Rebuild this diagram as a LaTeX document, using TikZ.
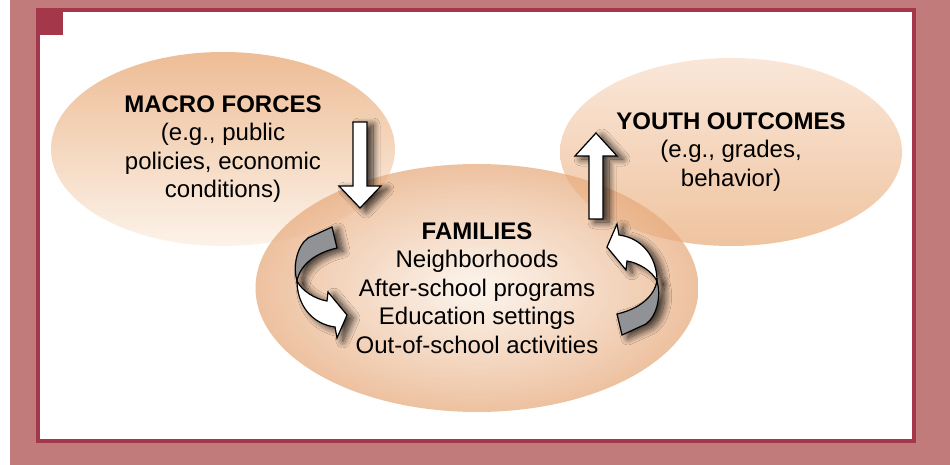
\documentclass[tikz,border=0pt]{standalone}
\usepackage{fontspec}
\setmainfont{Liberation Sans}
\usetikzlibrary{shapes.geometric,shadows.blur}
\definecolor{pinkbg}{HTML}{C17B7B}
\definecolor{darkred}{HTML}{A5374B}
\definecolor{arrowgray}{HTML}{909296}
\definecolor{macrotop}{RGB}{231,164,109}
\definecolor{macrobot}{RGB}{252,238,225}
\definecolor{youthtop}{RGB}{249,222,202}
\definecolor{youthbot}{RGB}{234,174,124}
\definecolor{famin}{RGB}{252,242,232}
\definecolor{famout}{RGB}{231,170,124}
\tikzset{
  bubble/.style={ellipse, inner sep=0pt, fill opacity=0.72, text opacity=1,
    align=center, font=\fontsize{24}{28.5}\selectfont},
  blockarrow/.style={draw=black, line width=1.2pt, line join=miter},
  shad/.style={blur shadow={shadow xshift=6pt, shadow yshift=-3pt,
    shadow blur radius=7pt, shadow blur steps=14, shadow opacity=80}}
}
\begin{document}
\begin{tikzpicture}[x=1pt,y=-1pt]
\useasboundingbox (0,0) rectangle (950,465);
% frame
\fill[pinkbg] (10,0) rectangle (950,465);
\fill[darkred] (36,8) rectangle (916,443);
\fill[white] (40,12) rectangle (912,439);
\fill[darkred] (36,8) rectangle (63,35);
% bubbles
\node[bubble, top color=macrotop, bottom color=macrobot,
  minimum width=344pt, minimum height=194pt] (macro) at (223,149)
  {\textbf{MACRO FORCES}\\(e.g., public\\policies, economic\\conditions)};
\node[bubble, top color=youthtop, bottom color=youthbot,
  minimum width=342pt, minimum height=188pt] (youth) at (731,152)
  {\textbf{YOUTH OUTCOMES}\\(e.g., grades,\\behavior)};
\node[bubble, inner color=famin, outer color=famout,
  minimum width=443pt, minimum height=248pt] (families) at (477,288)
  {\textbf{FAMILIES}\\Neighborhoods\\After-school programs\\Education settings\\Out-of-school activities};
% straight arrows
\draw[blockarrow, fill=white, shad] (353,122) -- (367,122) -- (367,186) -- (381,186)
  -- (360,208) -- (339,186) -- (353,186) -- cycle;
\draw[blockarrow, fill=white, shad] (589,219) -- (603,219) -- (603,156) -- (617,156)
  -- (596,133) -- (575,156) -- (589,156) -- cycle;
% left curved arrow
\path[shad] (308,238) -- (332,227) -- (337,248) .. controls (315,253) and (300,265) .. (297,281)
  .. controls (293,268) and (296,247) .. cycle;
\path[shad] (297,281) .. controls (302,291) and (315,299) .. (327,301) -- (328,292) -- (347,315)
  -- (337,338) -- (335,327) .. controls (312,324) and (297,305) .. cycle;
\draw[blockarrow, fill=arrowgray] (308,238) -- (332,227) -- (337,248) .. controls (315,253) and (300,265) .. (297,281)
  .. controls (293,268) and (296,247) .. cycle;
\draw[blockarrow, fill=white] (297,281) .. controls (302,291) and (315,299) .. (327,301) -- (328,292) -- (347,315)
  -- (337,338) -- (335,327) .. controls (312,324) and (297,305) .. cycle;
% right curved arrow
\path[shad] (646,324) -- (622,335) -- (617,314) .. controls (639,309) and (654,297) .. (657,281)
  .. controls (661,294) and (658,315) .. cycle;
\path[shad] (657,281) .. controls (652,271) and (639,263) .. (627,261) -- (626,270) -- (607,247)
  -- (617,224) -- (619,235) .. controls (642,238) and (657,257) .. cycle;
\draw[blockarrow, fill=arrowgray] (646,324) -- (622,335) -- (617,314) .. controls (639,309) and (654,297) .. (657,281)
  .. controls (661,294) and (658,315) .. cycle;
\draw[blockarrow, fill=white] (657,281) .. controls (652,271) and (639,263) .. (627,261) -- (626,270) -- (607,247)
  -- (617,224) -- (619,235) .. controls (642,238) and (657,257) .. cycle;
\end{tikzpicture}
\end{document}
